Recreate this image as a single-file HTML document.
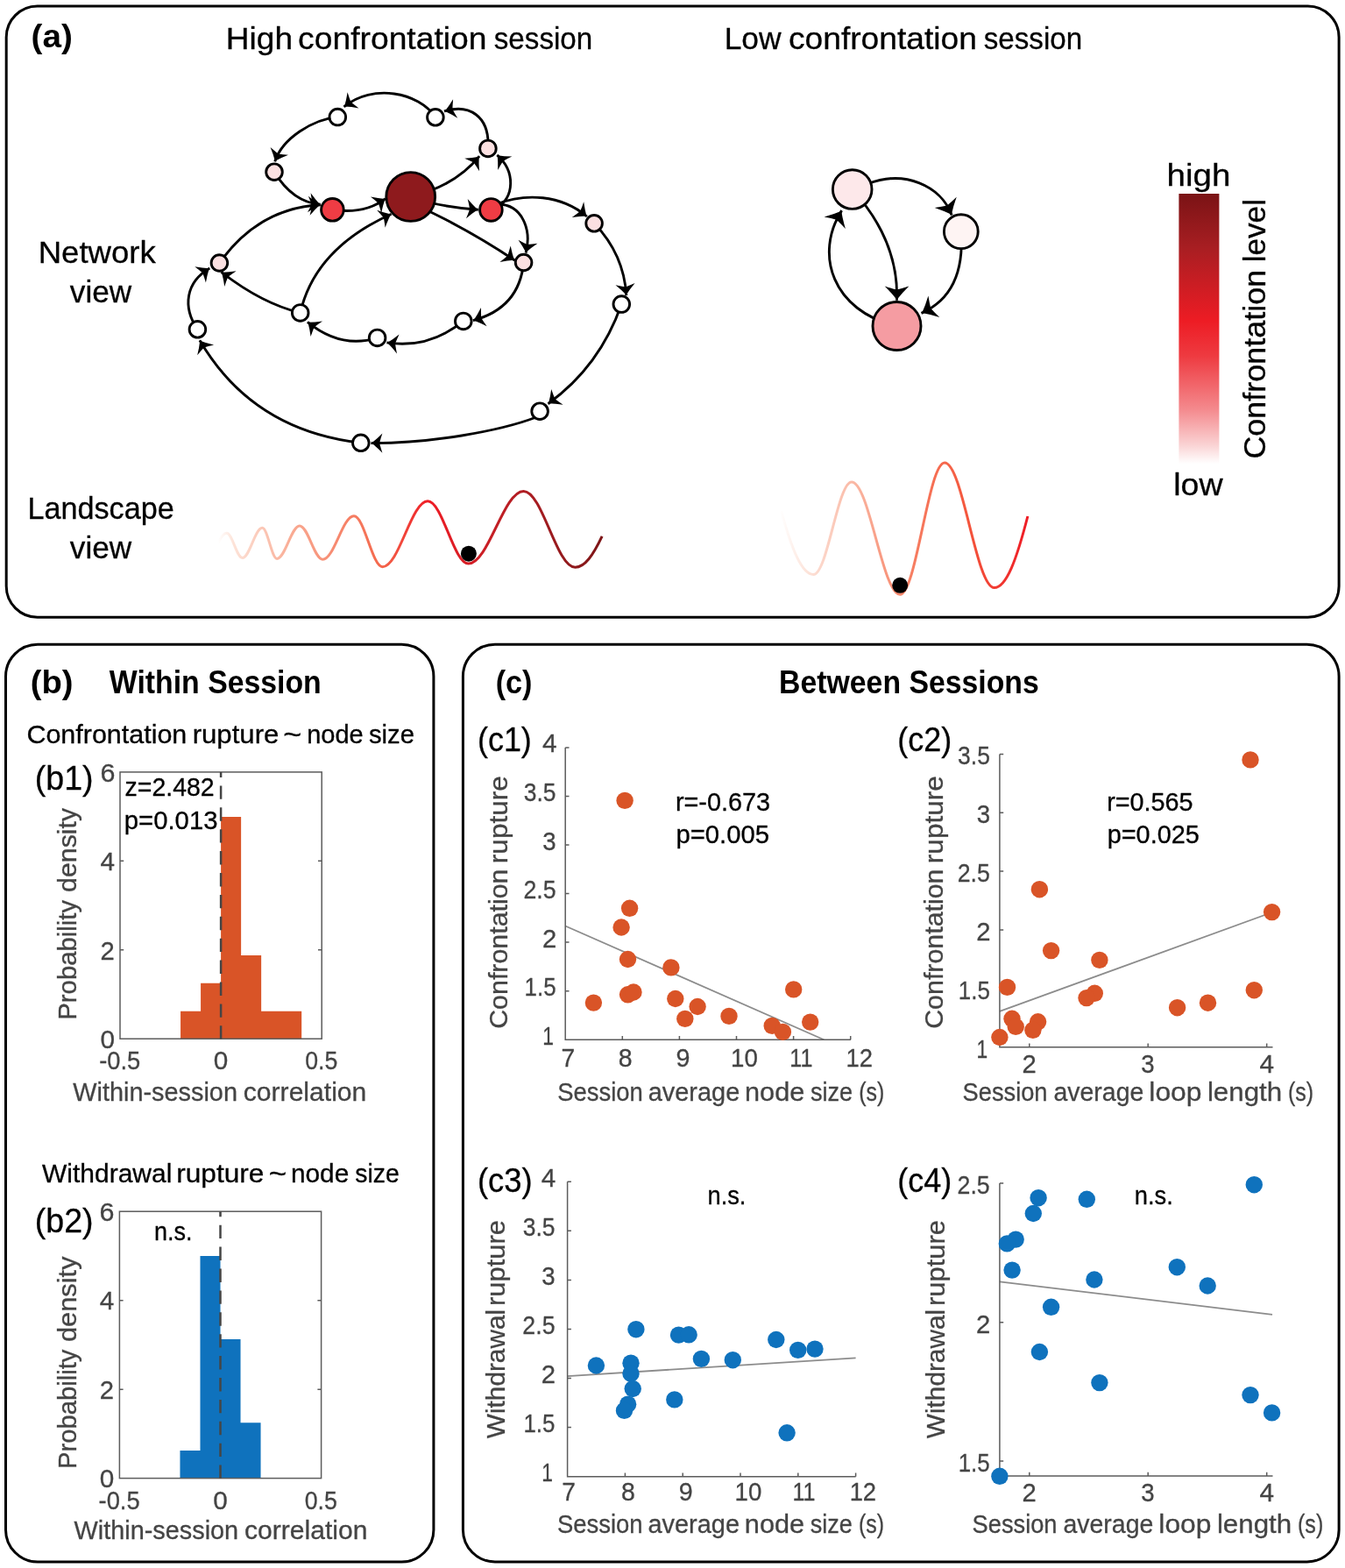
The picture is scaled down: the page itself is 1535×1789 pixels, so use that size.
<!DOCTYPE html>
<html lang="en">
<head>
<meta charset="utf-8">
<title>Figure</title>
<style>html,body{margin:0;padding:0;background:#fff}svg{display:block}text{font-family:"Liberation Sans",sans-serif}</style>
</head>
<body>
<svg width="1535" height="1789" viewBox="0 0 1535 1789">
<rect x="0" y="0" width="1535" height="1789" fill="#fff"/>
<rect x="7.2" y="7" width="1520.9" height="697.3" rx="35.5" ry="35.5" fill="none" stroke="#000" stroke-width="3"/>
<rect x="6.5" y="735.2" width="488.4" height="1046.8" rx="36.5" ry="36.5" fill="none" stroke="#000" stroke-width="3"/>
<rect x="528.4" y="735.2" width="999.7" height="1046.7" rx="36.5" ry="36.5" fill="none" stroke="#000" stroke-width="3"/>
<text transform="translate(35.57 53.80) scale(1.0740 1)" font-size="36" font-weight="700" fill="#000">(a)</text>
<text transform="translate(257.84 55.80) scale(1.0471 1)" font-size="35.4" stroke="#000" stroke-width="0.3" fill="#000">High </text>
<text transform="translate(340.12 55.80) scale(1.0528 1)" font-size="35.4" stroke="#000" stroke-width="0.3" fill="#000">confrontation </text>
<text transform="translate(563.79 55.80) scale(0.9373 1)" font-size="35.4" stroke="#000" stroke-width="0.3" fill="#000">session</text>
<text transform="translate(826.68 55.80) scale(0.9996 1)" font-size="35.4" stroke="#000" stroke-width="0.3" fill="#000">Low </text>
<text transform="translate(899.92 55.80) scale(1.0513 1)" font-size="35.4" stroke="#000" stroke-width="0.3" fill="#000">confrontation </text>
<text transform="translate(1122.79 55.80) scale(0.9365 1)" font-size="35.4" stroke="#000" stroke-width="0.3" fill="#000">session</text>
<text transform="translate(43.69 299.80) scale(1.0322 1)" font-size="35.4" stroke="#000" stroke-width="0.3" fill="#000">Network</text>
<text transform="translate(79.81 344.50) scale(0.9944 1)" font-size="35.4" stroke="#000" stroke-width="0.3" fill="#000">view</text>
<text transform="translate(31.38 592.00) scale(0.9664 1)" font-size="35.4" stroke="#000" stroke-width="0.3" fill="#000">Landscape</text>
<text transform="translate(79.81 637.30) scale(0.9944 1)" font-size="35.4" stroke="#000" stroke-width="0.3" fill="#000">view</text>
<text transform="translate(1331.60 212.10) scale(1.0882 1)" font-size="35.4" stroke="#000" stroke-width="0.3" fill="#000">high</text>
<text transform="translate(1339.16 564.50) scale(1.0610 1)" font-size="35.4" stroke="#000" stroke-width="0.3" fill="#000">low</text>
<text transform="translate(1444.40 523.60) rotate(-90) scale(1.0163 1)" font-size="35.4" stroke="#000" stroke-width="0.3" fill="#000">Confrontation </text>
<text transform="translate(1444.40 299.27) rotate(-90) scale(0.9918 1)" font-size="35.4" stroke="#000" stroke-width="0.3" fill="#000">level</text>
<defs><linearGradient id="cb" x1="0" y1="0" x2="0" y2="1"><stop offset="0" stop-color="#7a1315"/><stop offset="0.2" stop-color="#a81e22"/><stop offset="0.47" stop-color="#ed1c24"/><stop offset="0.6" stop-color="#ee3a40"/><stop offset="0.8" stop-color="#f48a8e"/><stop offset="0.93" stop-color="#fad2d3"/><stop offset="1" stop-color="#ffffff"/></linearGradient><linearGradient id="l1" gradientUnits="userSpaceOnUse" x1="249" y1="0" x2="688" y2="0"><stop offset="0" stop-color="#ffffff"/><stop offset="0.04" stop-color="#fde3d8"/><stop offset="0.2" stop-color="#f9a890"/><stop offset="0.42" stop-color="#f4694d"/><stop offset="0.55" stop-color="#ee1c25"/><stop offset="0.7" stop-color="#c91f26"/><stop offset="0.85" stop-color="#a01c20"/><stop offset="1" stop-color="#7d1517"/></linearGradient><linearGradient id="l2" gradientUnits="userSpaceOnUse" x1="890" y1="0" x2="1174" y2="0"><stop offset="0" stop-color="#ffffff"/><stop offset="0.1" stop-color="#fde6dd"/><stop offset="0.3" stop-color="#fab7a3"/><stop offset="0.5" stop-color="#f78468"/><stop offset="0.75" stop-color="#f4573d"/><stop offset="1" stop-color="#ee1c25"/></linearGradient></defs>
<rect x="1345.4" y="221" width="46" height="308" fill="url(#cb)"/>
<path d="M249.0 619.4 C252.2 612.7 255.1 608.3 258.6 608.3 C265.2 608.3 270.0 636.5 276.6 636.5 C284.9 636.5 291.0 602.3 299.3 602.3 C305.4 602.3 310.0 637.4 316.1 637.4 C325.5 637.4 332.5 599.9 341.9 599.9 C351.5 599.9 358.7 638.3 368.3 638.3 C381.3 638.3 390.9 588.8 403.9 588.8 C415.8 588.8 424.7 646.7 436.6 646.7 C455.4 646.7 469.3 571.8 488.1 571.8 C505.0 571.8 517.7 643.1 534.6 643.1 C557.5 643.1 574.6 560.4 597.5 560.4 C619.0 560.4 635.0 647.3 656.5 647.3 C667.6 647.3 677.0 633.1 687.1 611.9" fill="none" stroke="url(#l1)" stroke-width="3.0"/>
<circle cx="534.9" cy="631.7" r="9" fill="#000"/>
<path d="M891.5 583.4 C903.7 626.7 915.0 655.5 928.4 655.5 C944.2 655.5 956.1 550.0 971.9 550.0 C992.0 550.0 1007.1 678.2 1027.2 678.2 C1045.7 678.2 1059.5 528.1 1078.0 528.1 C1098.7 528.1 1114.0 670.5 1134.7 670.5 C1148.6 670.5 1160.3 637.9 1172.9 589.0" fill="none" stroke="url(#l2)" stroke-width="3.0"/>
<circle cx="1027.2" cy="667.8" r="9" fill="#000"/>
<path d="M496.9 133.8 C478.0 105.0 425.0 95.0 392.5 121.9" fill="none" stroke="#000" stroke-width="2.9"/>
<path d="M393.0 121.6 Q400.8 121.8 409.5 123.4 Q404.0 119.4 400.4 116.3 Q398.6 111.8 396.6 105.3 Q395.3 114.1 393.0 121.6Z" fill="#000"/>
<path d="M557.0 169.0 C559.0 132.0 535.0 118.0 507.0 127.0" fill="none" stroke="#000" stroke-width="2.9"/>
<path d="M507.6 126.9 Q514.7 130.1 522.2 134.8 Q518.6 129.0 516.4 124.8 Q516.5 120.0 517.1 113.2 Q512.5 120.8 507.6 126.9Z" fill="#000"/>
<path d="M385.3 133.6 C357.0 136.0 322.0 158.0 313.7 184.4" fill="none" stroke="#000" stroke-width="2.9"/>
<path d="M313.9 183.8 Q320.8 180.0 329.0 176.8 Q322.3 176.3 317.5 175.5 Q313.7 172.6 308.6 168.1 Q312.0 176.3 313.9 183.8Z" fill="#000"/>
<path d="M313.0 196.2 Q334.2 230.7 365.7 233.3" fill="none" stroke="#000" stroke-width="2.9"/>
<path d="M365.1 233.2 Q359.8 227.5 354.6 220.3 Q355.7 227.0 356.1 231.7 Q354.2 236.2 351.1 242.2 Q358.2 236.9 365.1 233.2Z" fill="#000"/>
<path d="M250.4 300.0 Q295.1 237.3 365.7 233.7" fill="none" stroke="#000" stroke-width="2.9"/>
<path d="M365.1 233.7 Q358.5 229.5 351.9 223.7 Q354.5 229.9 356.0 234.5 Q355.3 239.2 353.6 245.8 Q359.3 239.0 365.1 233.7Z" fill="#000"/>
<path d="M379.4 239.3 Q416.3 244.7 440.0 226.6" fill="none" stroke="#000" stroke-width="2.9"/>
<path d="M439.5 226.9 Q431.7 226.3 423.0 224.5 Q428.4 228.7 431.9 231.9 Q433.5 236.5 435.2 243.0 Q436.9 234.3 439.5 226.9Z" fill="#000"/>
<path d="M342.7 356.9 Q359.5 283.5 446.6 244.2" fill="none" stroke="#000" stroke-width="2.9"/>
<path d="M446.1 244.5 Q438.4 242.8 430.1 239.7 Q434.8 244.6 437.8 248.3 Q438.8 253.0 439.6 259.8 Q442.5 251.4 446.1 244.5Z" fill="#000"/>
<path d="M468.7 224.5 Q520.0 212.0 547.1 178.2" fill="none" stroke="#000" stroke-width="2.9"/>
<path d="M546.7 178.7 Q539.0 180.2 530.2 180.7 Q536.5 183.3 540.7 185.5 Q543.5 189.5 547.0 195.3 Q546.2 186.5 546.7 178.7Z" fill="#000"/>
<path d="M468.7 224.5 Q500.0 236.0 545.8 239.2" fill="none" stroke="#000" stroke-width="2.9"/>
<path d="M545.2 239.2 Q539.4 233.9 533.7 227.1 Q535.4 233.7 536.1 238.4 Q534.6 243.0 532.0 249.2 Q538.6 243.4 545.2 239.2Z" fill="#000"/>
<path d="M478.0 235.5 Q535.0 262.0 587.4 297.0" fill="none" stroke="#000" stroke-width="2.9"/>
<path d="M586.9 296.7 Q584.4 289.3 582.7 280.6 Q580.9 287.1 579.3 291.7 Q575.8 294.9 570.4 299.1 Q579.1 297.2 586.9 296.7Z" fill="#000"/>
<path d="M566.0 238.0 C588.0 225.0 588.0 195.0 567.3 176.8" fill="none" stroke="#000" stroke-width="2.9"/>
<path d="M567.7 177.2 Q568.5 185.0 568.2 193.9 Q571.4 187.9 574.0 183.9 Q578.1 181.5 584.3 178.6 Q575.4 178.5 567.7 177.2Z" fill="#000"/>
<path d="M566.0 233.0 C600.0 220.0 640.0 222.0 669.9 247.0" fill="none" stroke="#000" stroke-width="2.9"/>
<path d="M669.4 246.6 Q667.4 239.1 666.2 230.3 Q664.1 236.7 662.2 241.1 Q658.4 244.2 652.8 248.0 Q661.6 246.7 669.4 246.6Z" fill="#000"/>
<path d="M568.0 233.0 C596.0 233.0 607.0 262.0 600.1 288.6" fill="none" stroke="#000" stroke-width="2.9"/>
<path d="M600.2 288.0 Q606.0 282.8 613.4 277.8 Q606.6 278.8 601.8 279.1 Q597.5 277.1 591.5 273.8 Q596.6 281.1 600.2 288.0Z" fill="#000"/>
<path d="M678.1 254.8 Q712.0 290.0 714.8 337.1" fill="none" stroke="#000" stroke-width="2.9"/>
<path d="M714.7 336.5 Q718.9 329.9 724.6 323.1 Q718.4 325.9 713.9 327.4 Q709.2 326.7 702.5 325.2 Q709.4 330.8 714.7 336.5Z" fill="#000"/>
<path d="M597.6 299.5 C594.0 337.0 572.0 357.0 539.9 365.6" fill="none" stroke="#000" stroke-width="2.9"/>
<path d="M540.5 365.4 Q547.8 368.1 555.6 372.3 Q551.7 366.8 549.2 362.7 Q548.9 357.9 549.0 351.1 Q545.0 359.0 540.5 365.4Z" fill="#000"/>
<path d="M528.8 366.4 Q488.9 398.4 441.4 390.9" fill="none" stroke="#000" stroke-width="2.9"/>
<path d="M442.0 391.0 Q447.6 396.4 453.0 403.4 Q451.6 396.8 451.0 392.0 Q452.7 387.5 455.6 381.4 Q448.7 387.0 442.0 391.0Z" fill="#000"/>
<path d="M430.6 385.4 Q389.2 398.6 350.9 367.4" fill="none" stroke="#000" stroke-width="2.9"/>
<path d="M351.4 367.8 Q353.4 375.3 354.6 384.1 Q356.7 377.7 358.6 373.2 Q362.4 370.2 368.0 366.4 Q359.2 367.7 351.4 367.8Z" fill="#000"/>
<path d="M342.7 356.9 Q298.5 346.0 252.5 310.3" fill="none" stroke="#000" stroke-width="2.9"/>
<path d="M253.0 310.7 Q255.0 318.2 256.2 327.0 Q258.3 320.6 260.2 316.1 Q264.0 313.1 269.6 309.3 Q260.8 310.6 253.0 310.7Z" fill="#000"/>
<path d="M225.4 375.8 C208.0 350.0 212.0 322.0 239.3 306.0" fill="none" stroke="#000" stroke-width="2.9"/>
<path d="M238.8 306.3 Q231.0 305.9 222.3 304.2 Q227.7 308.3 231.3 311.5 Q233.0 316.0 234.9 322.5 Q236.4 313.8 238.8 306.3Z" fill="#000"/>
<path d="M411.8 505.3 Q288.0 491.0 227.9 388.3" fill="none" stroke="#000" stroke-width="2.9"/>
<path d="M228.2 388.8 Q227.4 396.6 225.2 405.2 Q229.6 400.0 232.9 396.6 Q237.5 395.2 244.1 393.6 Q235.5 391.6 228.2 388.8Z" fill="#000"/>
<path d="M612.0 476.0 C570.0 492.0 490.0 506.0 423.4 505.6" fill="none" stroke="#000" stroke-width="2.9"/>
<path d="M424.0 505.6 Q430.2 510.3 436.4 516.7 Q434.3 510.2 433.1 505.6 Q434.2 500.9 436.4 494.5 Q430.2 500.8 424.0 505.6Z" fill="#000"/>
<path d="M709.3 347.1 Q684.6 418.1 625.5 460.7" fill="none" stroke="#000" stroke-width="2.9"/>
<path d="M626.0 460.3 Q633.8 460.4 642.6 461.8 Q637.0 457.9 633.3 454.9 Q631.4 450.5 629.2 444.0 Q628.1 452.8 626.0 460.3Z" fill="#000"/>
<circle cx="385.3" cy="133.6" r="9.3" fill="#fff" stroke="#000" stroke-width="2.9"/>
<circle cx="496.9" cy="133.8" r="9.3" fill="#fff" stroke="#000" stroke-width="2.9"/>
<circle cx="709.3" cy="347.1" r="9.3" fill="#fff" stroke="#000" stroke-width="2.9"/>
<circle cx="342.7" cy="356.9" r="9.3" fill="#fff" stroke="#000" stroke-width="2.9"/>
<circle cx="225.4" cy="375.8" r="9.3" fill="#fff" stroke="#000" stroke-width="2.9"/>
<circle cx="430.6" cy="385.4" r="9.3" fill="#fff" stroke="#000" stroke-width="2.9"/>
<circle cx="528.8" cy="366.4" r="9.3" fill="#fff" stroke="#000" stroke-width="2.9"/>
<circle cx="616.1" cy="469.2" r="9.3" fill="#fff" stroke="#000" stroke-width="2.9"/>
<circle cx="411.8" cy="505.3" r="9.3" fill="#fff" stroke="#000" stroke-width="2.9"/>
<circle cx="556.9" cy="169.4" r="9.3" fill="#fbe0e1" stroke="#000" stroke-width="2.9"/>
<circle cx="313.0" cy="196.2" r="9.3" fill="#fbe0e1" stroke="#000" stroke-width="2.9"/>
<circle cx="678.1" cy="254.8" r="9.3" fill="#fbe0e1" stroke="#000" stroke-width="2.9"/>
<circle cx="250.4" cy="300.0" r="9.3" fill="#fbe0e1" stroke="#000" stroke-width="2.9"/>
<circle cx="597.6" cy="299.5" r="9.3" fill="#fbe0e1" stroke="#000" stroke-width="2.9"/>
<circle cx="379.4" cy="239.3" r="12.8" fill="#ef3c44" stroke="#000" stroke-width="2.9"/>
<circle cx="560.4" cy="239.4" r="12.8" fill="#ef3c44" stroke="#000" stroke-width="2.9"/>
<circle cx="468.7" cy="224.5" r="27.9" fill="#8e1a1d" stroke="#000" stroke-width="2.9"/>
<path d="M990.0 210.0 C1032.0 193.0 1074.0 212.0 1086.2 245.5" fill="none" stroke="#000" stroke-width="2.9"/>
<path d="M1085.9 244.8 Q1087.9 235.3 1091.7 224.8 Q1085.6 230.7 1080.9 234.6 Q1075.1 235.8 1066.7 236.9 Q1077.1 240.4 1085.9 244.8Z" fill="#000"/>
<path d="M972.7 216.1 Q1026.0 275.0 1023.5 342.7" fill="none" stroke="#000" stroke-width="2.9"/>
<path d="M1023.5 342.0 Q1029.5 334.2 1037.4 326.5 Q1029.4 329.1 1023.5 330.6 Q1017.7 329.1 1009.7 326.4 Q1017.5 334.2 1023.5 342.0Z" fill="#000"/>
<path d="M1096.8 264.2 Q1102.0 335.0 1051.5 357.4" fill="none" stroke="#000" stroke-width="2.9"/>
<path d="M1052.2 357.1 Q1061.8 358.7 1072.3 362.1 Q1066.2 356.3 1062.2 351.8 Q1060.8 345.9 1059.4 337.6 Q1056.3 348.2 1052.2 357.1Z" fill="#000"/>
<path d="M1023.5 372.0 C950.0 355.0 929.0 290.0 960.6 240.1" fill="none" stroke="#000" stroke-width="2.9"/>
<path d="M960.2 240.8 Q951.3 244.6 940.6 247.6 Q948.9 249.1 954.7 250.7 Q959.1 254.8 964.9 261.0 Q961.7 250.4 960.2 240.8Z" fill="#000"/>
<circle cx="972.7" cy="216.1" r="22.3" fill="#fde8ea" stroke="#000" stroke-width="2.9"/>
<circle cx="1096.8" cy="264.2" r="19.4" fill="#fef4f3" stroke="#000" stroke-width="2.9"/>
<circle cx="1023.5" cy="372.0" r="27.5" fill="#f59ca2" stroke="#000" stroke-width="2.9"/>
<text transform="translate(34.79 791.00) scale(1.0470 1)" font-size="36.5" font-weight="700" fill="#000">(b)</text>
<text transform="translate(124.80 791.00) scale(0.9264 1)" font-size="36.5" font-weight="700" fill="#000">Within Session</text>
<text transform="translate(30.38 847.70) scale(1.0331 1)" font-size="29.5" stroke="#000" stroke-width="0.3" fill="#000">Confrontation </text>
<text transform="translate(219.67 847.70) scale(1.0568 1)" font-size="29.5" stroke="#000" stroke-width="0.3" fill="#000">rupture </text>
<text transform="translate(323.28 847.70) scale(1.2190 1)" font-size="29.5" stroke="#000" stroke-width="0.3" fill="#000">~ </text>
<text transform="translate(350.14 847.70) scale(0.9837 1)" font-size="29.5" stroke="#000" stroke-width="0.3" fill="#000">node </text>
<text transform="translate(420.99 847.70) scale(0.9926 1)" font-size="29.5" stroke="#000" stroke-width="0.3" fill="#000">size</text>
<text transform="translate(48.05 1349.00) scale(1.0166 1)" font-size="29.5" stroke="#000" stroke-width="0.3" fill="#000">Withdrawal </text>
<text transform="translate(201.25 1349.00) scale(1.0712 1)" font-size="29.5" stroke="#000" stroke-width="0.3" fill="#000">rupture </text>
<text transform="translate(306.73 1349.00) scale(1.1847 1)" font-size="29.5" stroke="#000" stroke-width="0.3" fill="#000">~ </text>
<text transform="translate(331.88 1349.00) scale(1.0125 1)" font-size="29.5" stroke="#000" stroke-width="0.3" fill="#000">node </text>
<text transform="translate(405.22 1349.00) scale(0.9629 1)" font-size="29.5" stroke="#000" stroke-width="0.3" fill="#000">size</text>
<text transform="translate(39.75 900.60) scale(0.9637 1)" font-size="39" stroke="#000" stroke-width="0.3" fill="#000">(b1)</text>
<text transform="translate(39.75 1405.70) scale(0.9637 1)" font-size="39" stroke="#000" stroke-width="0.3" fill="#000">(b2)</text>
<path d="M206.06 1185.2V1153.70H229.08V1121.80H252.10V932.12H275.12V1089.95H298.14V1153.70H344.18V1185.2Z" fill="#d95427"/>
<rect x="137.0" y="880.9" width="230.20" height="304.30" fill="none" stroke="#5c5c5c" stroke-width="1.5"/>
<path d="M137.0 1083.77h4.2M367.2 1083.77h-4.2" stroke="#5c5c5c" stroke-width="1.5" fill="none"/>
<path d="M137.0 982.33h4.2M367.2 982.33h-4.2" stroke="#5c5c5c" stroke-width="1.5" fill="none"/>
<path d="M252.10 1185.2v-4.2M252.10 880.9v4.2" stroke="#5c5c5c" stroke-width="1.5" fill="none"/>
<path d="M252.10 880.9V1185.2" stroke="#454545" stroke-width="2.5" stroke-dasharray="15.4 9.5" stroke-dashoffset="9.4" fill="none"/>
<text transform="translate(114.51 1196.20) scale(1.0184 1)" font-size="29.2" stroke="#444444" stroke-width="0.3" fill="#444444">0</text>
<text transform="translate(114.54 1094.77) scale(1.0011 1)" font-size="29.2" stroke="#444444" stroke-width="0.3" fill="#444444">2</text>
<text transform="translate(114.53 993.33) scale(1.0172 1)" font-size="29.2" stroke="#444444" stroke-width="0.3" fill="#444444">4</text>
<text transform="translate(114.38 891.90) scale(1.0441 1)" font-size="29.2" stroke="#444444" stroke-width="0.3" fill="#444444">6</text>
<text transform="translate(113.17 1220.40) scale(0.9349 1)" font-size="29.2" stroke="#444444" stroke-width="0.3" fill="#444444">-0.5</text>
<text transform="translate(243.81 1220.40) scale(1.0184 1)" font-size="29.2" stroke="#444444" stroke-width="0.3" fill="#444444">0</text>
<text transform="translate(348.23 1220.40) scale(0.9150 1)" font-size="29.2" stroke="#444444" stroke-width="0.3" fill="#444444">0.5</text>
<path d="M205.46 1686.6V1655.09H228.48V1432.93H251.50V1528.06H274.52V1623.18H297.54V1686.6Z" fill="#0f72bd"/>
<rect x="136.4" y="1382.2" width="230.20" height="304.40" fill="none" stroke="#5c5c5c" stroke-width="1.5"/>
<path d="M136.4 1585.13h4.2M366.6 1585.13h-4.2" stroke="#5c5c5c" stroke-width="1.5" fill="none"/>
<path d="M136.4 1483.67h4.2M366.6 1483.67h-4.2" stroke="#5c5c5c" stroke-width="1.5" fill="none"/>
<path d="M251.50 1686.6v-4.2M251.50 1382.2v4.2" stroke="#5c5c5c" stroke-width="1.5" fill="none"/>
<path d="M251.50 1382.2V1686.6" stroke="#454545" stroke-width="2.5" stroke-dasharray="15.4 9.5" stroke-dashoffset="9.4" fill="none"/>
<text transform="translate(113.71 1697.30) scale(1.0184 1)" font-size="29.2" stroke="#444444" stroke-width="0.3" fill="#444444">0</text>
<text transform="translate(113.74 1595.83) scale(1.0011 1)" font-size="29.2" stroke="#444444" stroke-width="0.3" fill="#444444">2</text>
<text transform="translate(113.73 1494.37) scale(1.0172 1)" font-size="29.2" stroke="#444444" stroke-width="0.3" fill="#444444">4</text>
<text transform="translate(113.58 1392.90) scale(1.0441 1)" font-size="29.2" stroke="#444444" stroke-width="0.3" fill="#444444">6</text>
<text transform="translate(112.57 1721.60) scale(0.9349 1)" font-size="29.2" stroke="#444444" stroke-width="0.3" fill="#444444">-0.5</text>
<text transform="translate(243.21 1721.60) scale(1.0184 1)" font-size="29.2" stroke="#444444" stroke-width="0.3" fill="#444444">0</text>
<text transform="translate(347.63 1721.60) scale(0.9150 1)" font-size="29.2" stroke="#444444" stroke-width="0.3" fill="#444444">0.5</text>
<text transform="translate(86.90 1163.72) rotate(-90) scale(1.0046 1)" font-size="29.2" stroke="#444444" stroke-width="0.3" fill="#444444">Probability </text>
<text transform="translate(86.90 1017.89) rotate(-90) scale(1.0386 1)" font-size="29.2" stroke="#444444" stroke-width="0.3" fill="#444444">density</text>
<text transform="translate(86.90 1676.11) rotate(-90) scale(1.0016 1)" font-size="29.2" stroke="#444444" stroke-width="0.3" fill="#444444">Probability </text>
<text transform="translate(86.90 1531.01) rotate(-90) scale(1.0551 1)" font-size="29.2" stroke="#444444" stroke-width="0.3" fill="#444444">density</text>
<text transform="translate(83.36 1256.20) scale(0.9887 1)" font-size="29.2" stroke="#444444" stroke-width="0.3" fill="#444444">Within-session </text>
<text transform="translate(277.82 1256.20) scale(1.0306 1)" font-size="29.2" stroke="#444444" stroke-width="0.3" fill="#444444">correlation</text>
<text transform="translate(84.56 1755.70) scale(0.9887 1)" font-size="29.2" stroke="#444444" stroke-width="0.3" fill="#444444">Within-session </text>
<text transform="translate(279.02 1755.70) scale(1.0306 1)" font-size="29.2" stroke="#444444" stroke-width="0.3" fill="#444444">correlation</text>
<text transform="translate(142.56 908.30) scale(0.9964 1)" font-size="28.6" stroke="#000" stroke-width="0.3" fill="#000">z=2.482</text>
<text transform="translate(141.80 946.00) scale(1.0247 1)" font-size="28.6" stroke="#000" stroke-width="0.3" fill="#000">p=0.013</text>
<text transform="translate(176.08 1414.60) scale(0.9444 1)" font-size="28.6" stroke="#000" stroke-width="0.3" fill="#000">n.s.</text>
<text transform="translate(565.69 791.00) scale(0.9348 1)" font-size="36.5" font-weight="700" fill="#000">(c)</text>
<text transform="translate(889.12 791.00) scale(0.9259 1)" font-size="36.5" font-weight="700" fill="#000">Between Sessions</text>
<text transform="translate(544.95 856.90) scale(0.9215 1)" font-size="39" stroke="#000" stroke-width="0.3" fill="#000">(c1)</text>
<text transform="translate(1024.25 856.90) scale(0.9231 1)" font-size="39" stroke="#000" stroke-width="0.3" fill="#000">(c2)</text>
<text transform="translate(544.93 1359.70) scale(0.9327 1)" font-size="39" stroke="#000" stroke-width="0.3" fill="#000">(c3)</text>
<text transform="translate(1024.25 1359.70) scale(0.9231 1)" font-size="39" stroke="#000" stroke-width="0.3" fill="#000">(c4)</text>
<path d="M645.2 1056.5L940.3 1186.2" stroke="#8c8c8c" stroke-width="1.8" fill="none"/>
<path d="M645.2 852.9V1186.2H970.9M645.2 1186.2v-4.3M710.3 1186.2v-4.3M775.4 1186.2v-4.3M840.5 1186.2v-4.3M905.6 1186.2v-4.3M970.7 1186.2v-4.3M645.2 1186.2h4.3M645.2 1130.7h4.3M645.2 1075.1h4.3M645.2 1019.6h4.3M645.2 964.0h4.3M645.2 908.5h4.3M645.2 852.9h4.3" stroke="#5c5c5c" stroke-width="1.5" fill="none"/>
<circle cx="713.1" cy="913.4" r="9.7" fill="#d95427"/>
<circle cx="718.6" cy="1036.3" r="9.7" fill="#d95427"/>
<circle cx="709.1" cy="1058.0" r="9.7" fill="#d95427"/>
<circle cx="716.5" cy="1094.5" r="9.7" fill="#d95427"/>
<circle cx="765.9" cy="1103.9" r="9.7" fill="#d95427"/>
<circle cx="716.5" cy="1134.8" r="9.7" fill="#d95427"/>
<circle cx="723.0" cy="1132.0" r="9.7" fill="#d95427"/>
<circle cx="677.4" cy="1144.1" r="9.7" fill="#d95427"/>
<circle cx="770.8" cy="1139.5" r="9.7" fill="#d95427"/>
<circle cx="796.1" cy="1148.5" r="9.7" fill="#d95427"/>
<circle cx="781.8" cy="1162.4" r="9.7" fill="#d95427"/>
<circle cx="832.0" cy="1159.4" r="9.7" fill="#d95427"/>
<circle cx="905.7" cy="1128.9" r="9.7" fill="#d95427"/>
<circle cx="881.2" cy="1170.4" r="9.7" fill="#d95427"/>
<circle cx="893.4" cy="1177.4" r="9.7" fill="#d95427"/>
<circle cx="924.7" cy="1166.1" r="9.7" fill="#d95427"/>
<text transform="translate(640.39 1216.90) scale(0.9634 1)" font-size="29.2" stroke="#444444" stroke-width="0.3" fill="#444444">7</text>
<text transform="translate(705.79 1216.90) scale(0.9764 1)" font-size="29.2" stroke="#444444" stroke-width="0.3" fill="#444444">8</text>
<text transform="translate(771.43 1216.90) scale(0.9848 1)" font-size="29.2" stroke="#444444" stroke-width="0.3" fill="#444444">9</text>
<text transform="translate(834.12 1216.90) scale(0.9476 1)" font-size="29.2" stroke="#444444" stroke-width="0.3" fill="#444444">10</text>
<text transform="translate(901.31 1216.90) scale(0.8608 1)" font-size="29.2" stroke="#444444" stroke-width="0.3" fill="#444444">11</text>
<text transform="translate(965.44 1216.90) scale(0.9387 1)" font-size="29.2" stroke="#444444" stroke-width="0.3" fill="#444444">12</text>
<text transform="translate(619.27 1191.70) scale(0.7800 1)" font-size="29.2" stroke="#444444" stroke-width="0.3" fill="#444444">1</text>
<text transform="translate(598.56 1136.15) scale(0.8864 1)" font-size="29.2" stroke="#444444" stroke-width="0.3" fill="#444444">1.5</text>
<text transform="translate(618.94 1080.60) scale(1.0011 1)" font-size="29.2" stroke="#444444" stroke-width="0.3" fill="#444444">2</text>
<text transform="translate(597.47 1025.05) scale(0.9141 1)" font-size="29.2" stroke="#444444" stroke-width="0.3" fill="#444444">2.5</text>
<text transform="translate(619.37 969.50) scale(0.9445 1)" font-size="29.2" stroke="#444444" stroke-width="0.3" fill="#444444">3</text>
<text transform="translate(597.81 913.95) scale(0.9054 1)" font-size="29.2" stroke="#444444" stroke-width="0.3" fill="#444444">3.5</text>
<text transform="translate(618.93 858.40) scale(1.0172 1)" font-size="29.2" stroke="#444444" stroke-width="0.3" fill="#444444">4</text>
<path d="M1140.9 1153.9L1451.6 1041.0" stroke="#8c8c8c" stroke-width="1.8" fill="none"/>
<path d="M1140.9 860.4V1194.7H1452.5M1174.8 1194.7v-4.3M1310.2 1194.7v-4.3M1445.7 1194.7v-4.3M1140.9 1194.7h4.3M1140.9 1127.8h4.3M1140.9 1061.0h4.3M1140.9 994.1h4.3M1140.9 927.3h4.3M1140.9 860.4h4.3" stroke="#5c5c5c" stroke-width="1.5" fill="none"/>
<circle cx="1427.0" cy="866.9" r="9.7" fill="#d95427"/>
<circle cx="1186.4" cy="1014.7" r="9.7" fill="#d95427"/>
<circle cx="1451.6" cy="1040.6" r="9.7" fill="#d95427"/>
<circle cx="1199.6" cy="1084.6" r="9.7" fill="#d95427"/>
<circle cx="1254.9" cy="1095.4" r="9.7" fill="#d95427"/>
<circle cx="1149.5" cy="1126.4" r="9.7" fill="#d95427"/>
<circle cx="1249.3" cy="1133.3" r="9.7" fill="#d95427"/>
<circle cx="1240.0" cy="1138.6" r="9.7" fill="#d95427"/>
<circle cx="1431.3" cy="1129.7" r="9.7" fill="#d95427"/>
<circle cx="1378.5" cy="1144.2" r="9.7" fill="#d95427"/>
<circle cx="1343.6" cy="1149.7" r="9.7" fill="#d95427"/>
<circle cx="1155.0" cy="1162.3" r="9.7" fill="#d95427"/>
<circle cx="1159.2" cy="1171.4" r="9.7" fill="#d95427"/>
<circle cx="1184.6" cy="1165.8" r="9.7" fill="#d95427"/>
<circle cx="1178.9" cy="1175.3" r="9.7" fill="#d95427"/>
<circle cx="1140.9" cy="1183.5" r="9.7" fill="#d95427"/>
<text transform="translate(1166.54 1223.50) scale(1.0011 1)" font-size="29.2" stroke="#444444" stroke-width="0.3" fill="#444444">2</text>
<text transform="translate(1302.37 1223.50) scale(0.9445 1)" font-size="29.2" stroke="#444444" stroke-width="0.3" fill="#444444">3</text>
<text transform="translate(1437.43 1223.50) scale(1.0172 1)" font-size="29.2" stroke="#444444" stroke-width="0.3" fill="#444444">4</text>
<text transform="translate(1114.57 1206.70) scale(0.7800 1)" font-size="29.2" stroke="#444444" stroke-width="0.3" fill="#444444">1</text>
<text transform="translate(1093.86 1139.84) scale(0.8864 1)" font-size="29.2" stroke="#444444" stroke-width="0.3" fill="#444444">1.5</text>
<text transform="translate(1114.24 1072.98) scale(1.0011 1)" font-size="29.2" stroke="#444444" stroke-width="0.3" fill="#444444">2</text>
<text transform="translate(1092.77 1006.12) scale(0.9141 1)" font-size="29.2" stroke="#444444" stroke-width="0.3" fill="#444444">2.5</text>
<text transform="translate(1114.67 939.26) scale(0.9445 1)" font-size="29.2" stroke="#444444" stroke-width="0.3" fill="#444444">3</text>
<text transform="translate(1093.11 872.40) scale(0.9054 1)" font-size="29.2" stroke="#444444" stroke-width="0.3" fill="#444444">3.5</text>
<path d="M647.6 1570.1L976.6 1549.4" stroke="#8c8c8c" stroke-width="1.8" fill="none"/>
<path d="M647.6 1348.2V1684.7H976.6M647.6 1684.7v-4.3M713.4 1684.7v-4.3M779.2 1684.7v-4.3M845.0 1684.7v-4.3M910.8 1684.7v-4.3M976.6 1684.7v-4.3M647.6 1684.7h4.3M647.6 1628.6h4.3M647.6 1572.5h4.3M647.6 1516.5h4.3M647.6 1460.4h4.3M647.6 1404.3h4.3M647.6 1348.2h4.3" stroke="#5c5c5c" stroke-width="1.5" fill="none"/>
<circle cx="680.4" cy="1558.0" r="9.7" fill="#0f72bd"/>
<circle cx="725.9" cy="1516.7" r="9.7" fill="#0f72bd"/>
<circle cx="720.0" cy="1555.2" r="9.7" fill="#0f72bd"/>
<circle cx="720.0" cy="1567.2" r="9.7" fill="#0f72bd"/>
<circle cx="722.2" cy="1584.5" r="9.7" fill="#0f72bd"/>
<circle cx="716.6" cy="1602.2" r="9.7" fill="#0f72bd"/>
<circle cx="712.5" cy="1609.4" r="9.7" fill="#0f72bd"/>
<circle cx="774.5" cy="1523.1" r="9.7" fill="#0f72bd"/>
<circle cx="786.1" cy="1522.8" r="9.7" fill="#0f72bd"/>
<circle cx="769.8" cy="1596.9" r="9.7" fill="#0f72bd"/>
<circle cx="800.4" cy="1550.4" r="9.7" fill="#0f72bd"/>
<circle cx="836.3" cy="1551.7" r="9.7" fill="#0f72bd"/>
<circle cx="885.8" cy="1528.5" r="9.7" fill="#0f72bd"/>
<circle cx="910.7" cy="1540.4" r="9.7" fill="#0f72bd"/>
<circle cx="930.0" cy="1539.1" r="9.7" fill="#0f72bd"/>
<circle cx="898.1" cy="1634.8" r="9.7" fill="#0f72bd"/>
<text transform="translate(641.19 1712.00) scale(0.9634 1)" font-size="29.2" stroke="#444444" stroke-width="0.3" fill="#444444">7</text>
<text transform="translate(709.09 1712.00) scale(0.9764 1)" font-size="29.2" stroke="#444444" stroke-width="0.3" fill="#444444">8</text>
<text transform="translate(774.63 1712.00) scale(0.9848 1)" font-size="29.2" stroke="#444444" stroke-width="0.3" fill="#444444">9</text>
<text transform="translate(838.52 1712.00) scale(0.9476 1)" font-size="29.2" stroke="#444444" stroke-width="0.3" fill="#444444">10</text>
<text transform="translate(904.41 1712.00) scale(0.8608 1)" font-size="29.2" stroke="#444444" stroke-width="0.3" fill="#444444">11</text>
<text transform="translate(969.64 1712.00) scale(0.9387 1)" font-size="29.2" stroke="#444444" stroke-width="0.3" fill="#444444">12</text>
<text transform="translate(618.17 1690.10) scale(0.7800 1)" font-size="29.2" stroke="#444444" stroke-width="0.3" fill="#444444">1</text>
<text transform="translate(597.46 1634.02) scale(0.8864 1)" font-size="29.2" stroke="#444444" stroke-width="0.3" fill="#444444">1.5</text>
<text transform="translate(617.84 1577.94) scale(1.0011 1)" font-size="29.2" stroke="#444444" stroke-width="0.3" fill="#444444">2</text>
<text transform="translate(596.37 1521.86) scale(0.9141 1)" font-size="29.2" stroke="#444444" stroke-width="0.3" fill="#444444">2.5</text>
<text transform="translate(618.27 1465.78) scale(0.9445 1)" font-size="29.2" stroke="#444444" stroke-width="0.3" fill="#444444">3</text>
<text transform="translate(596.71 1409.70) scale(0.9054 1)" font-size="29.2" stroke="#444444" stroke-width="0.3" fill="#444444">3.5</text>
<text transform="translate(617.83 1353.62) scale(1.0172 1)" font-size="29.2" stroke="#444444" stroke-width="0.3" fill="#444444">4</text>
<path d="M1140.9 1462.3L1452.0 1499.9" stroke="#8c8c8c" stroke-width="1.8" fill="none"/>
<path d="M1140.9 1350.1V1684.1H1452.5M1174.8 1684.1v-4.3M1310.2 1684.1v-4.3M1445.7 1684.1v-4.3M1140.9 1350.1h4.3M1140.9 1508.7h4.3M1140.9 1667.1h4.3" stroke="#5c5c5c" stroke-width="1.5" fill="none"/>
<circle cx="1431.3" cy="1351.7" r="9.7" fill="#0f72bd"/>
<circle cx="1185.1" cy="1366.7" r="9.7" fill="#0f72bd"/>
<circle cx="1240.3" cy="1368.3" r="9.7" fill="#0f72bd"/>
<circle cx="1179.3" cy="1384.5" r="9.7" fill="#0f72bd"/>
<circle cx="1159.2" cy="1414.1" r="9.7" fill="#0f72bd"/>
<circle cx="1149.3" cy="1418.9" r="9.7" fill="#0f72bd"/>
<circle cx="1155.1" cy="1449.1" r="9.7" fill="#0f72bd"/>
<circle cx="1343.3" cy="1445.7" r="9.7" fill="#0f72bd"/>
<circle cx="1248.9" cy="1460.0" r="9.7" fill="#0f72bd"/>
<circle cx="1378.2" cy="1467.0" r="9.7" fill="#0f72bd"/>
<circle cx="1199.6" cy="1491.3" r="9.7" fill="#0f72bd"/>
<circle cx="1186.4" cy="1542.5" r="9.7" fill="#0f72bd"/>
<circle cx="1254.9" cy="1577.6" r="9.7" fill="#0f72bd"/>
<circle cx="1427.0" cy="1591.6" r="9.7" fill="#0f72bd"/>
<circle cx="1451.6" cy="1611.9" r="9.7" fill="#0f72bd"/>
<circle cx="1140.9" cy="1684.3" r="9.7" fill="#0f72bd"/>
<text transform="translate(1166.54 1712.50) scale(1.0011 1)" font-size="29.2" stroke="#444444" stroke-width="0.3" fill="#444444">2</text>
<text transform="translate(1302.37 1712.50) scale(0.9445 1)" font-size="29.2" stroke="#444444" stroke-width="0.3" fill="#444444">3</text>
<text transform="translate(1437.43 1712.50) scale(1.0172 1)" font-size="29.2" stroke="#444444" stroke-width="0.3" fill="#444444">4</text>
<text transform="translate(1092.57 1362.10) scale(0.9141 1)" font-size="29.2" stroke="#444444" stroke-width="0.3" fill="#444444">2.5</text>
<text transform="translate(1114.04 1520.70) scale(1.0011 1)" font-size="29.2" stroke="#444444" stroke-width="0.3" fill="#444444">2</text>
<text transform="translate(1093.66 1679.10) scale(0.8864 1)" font-size="29.2" stroke="#444444" stroke-width="0.3" fill="#444444">1.5</text>
<text transform="translate(578.60 1173.82) rotate(-90) scale(1.0402 1)" font-size="29.2" stroke="#444444" stroke-width="0.3" fill="#444444">Confrontation </text>
<text transform="translate(578.60 985.15) rotate(-90) scale(1.0811 1)" font-size="29.2" stroke="#444444" stroke-width="0.3" fill="#444444">rupture</text>
<text transform="translate(1076.00 1173.82) rotate(-90) scale(1.0402 1)" font-size="29.2" stroke="#444444" stroke-width="0.3" fill="#444444">Confrontation </text>
<text transform="translate(1076.00 985.15) rotate(-90) scale(1.0811 1)" font-size="29.2" stroke="#444444" stroke-width="0.3" fill="#444444">rupture</text>
<text transform="translate(575.70 1641.15) rotate(-90) scale(1.0200 1)" font-size="29.2" stroke="#444444" stroke-width="0.3" fill="#444444">Withdrawal </text>
<text transform="translate(575.70 1490.01) rotate(-90) scale(1.0599 1)" font-size="29.2" stroke="#444444" stroke-width="0.3" fill="#444444">rupture</text>
<text transform="translate(1077.60 1641.15) rotate(-90) scale(1.0200 1)" font-size="29.2" stroke="#444444" stroke-width="0.3" fill="#444444">Withdrawal </text>
<text transform="translate(1077.60 1490.01) rotate(-90) scale(1.0599 1)" font-size="29.2" stroke="#444444" stroke-width="0.3" fill="#444444">rupture</text>
<text transform="translate(636.16 1256.20) scale(0.9400 1)" font-size="29.2" stroke="#444444" stroke-width="0.3" fill="#444444">Session </text>
<text transform="translate(739.67 1256.20) scale(0.9912 1)" font-size="29.2" stroke="#444444" stroke-width="0.3" fill="#444444">average </text>
<text transform="translate(850.03 1256.20) scale(1.0505 1)" font-size="29.2" stroke="#444444" stroke-width="0.3" fill="#444444">node </text>
<text transform="translate(924.95 1256.20) scale(0.9286 1)" font-size="29.2" stroke="#444444" stroke-width="0.3" fill="#444444">size </text>
<text transform="translate(980.24 1256.20) scale(0.8541 1)" font-size="29.2" stroke="#444444" stroke-width="0.3" fill="#444444">(s)</text>
<text transform="translate(1098.57 1256.20) scale(0.9331 1)" font-size="29.2" stroke="#444444" stroke-width="0.3" fill="#444444">Session </text>
<text transform="translate(1202.49 1256.20) scale(0.9747 1)" font-size="29.2" stroke="#444444" stroke-width="0.3" fill="#444444">average </text>
<text transform="translate(1311.35 1256.20) scale(1.0894 1)" font-size="29.2" stroke="#444444" stroke-width="0.3" fill="#444444">loop </text>
<text transform="translate(1377.89 1256.20) scale(1.0726 1)" font-size="29.2" stroke="#444444" stroke-width="0.3" fill="#444444">length </text>
<text transform="translate(1470.04 1256.20) scale(0.8541 1)" font-size="29.2" stroke="#444444" stroke-width="0.3" fill="#444444">(s)</text>
<text transform="translate(635.96 1749.20) scale(0.9400 1)" font-size="29.2" stroke="#444444" stroke-width="0.3" fill="#444444">Session </text>
<text transform="translate(739.47 1749.20) scale(0.9912 1)" font-size="29.2" stroke="#444444" stroke-width="0.3" fill="#444444">average </text>
<text transform="translate(849.83 1749.20) scale(1.0505 1)" font-size="29.2" stroke="#444444" stroke-width="0.3" fill="#444444">node </text>
<text transform="translate(924.75 1749.20) scale(0.9286 1)" font-size="29.2" stroke="#444444" stroke-width="0.3" fill="#444444">size </text>
<text transform="translate(980.04 1749.20) scale(0.8541 1)" font-size="29.2" stroke="#444444" stroke-width="0.3" fill="#444444">(s)</text>
<text transform="translate(1109.57 1749.20) scale(0.9331 1)" font-size="29.2" stroke="#444444" stroke-width="0.3" fill="#444444">Session </text>
<text transform="translate(1213.49 1749.20) scale(0.9747 1)" font-size="29.2" stroke="#444444" stroke-width="0.3" fill="#444444">average </text>
<text transform="translate(1322.35 1749.20) scale(1.0894 1)" font-size="29.2" stroke="#444444" stroke-width="0.3" fill="#444444">loop </text>
<text transform="translate(1388.89 1749.20) scale(1.0726 1)" font-size="29.2" stroke="#444444" stroke-width="0.3" fill="#444444">length </text>
<text transform="translate(1481.04 1749.20) scale(0.8574 1)" font-size="29.2" stroke="#444444" stroke-width="0.3" fill="#444444">(s)</text>
<text transform="translate(770.93 924.60) scale(1.0072 1)" font-size="28.6" stroke="#000" stroke-width="0.3" fill="#000">r=-0.673</text>
<text transform="translate(771.50 961.90) scale(1.0230 1)" font-size="28.6" stroke="#000" stroke-width="0.3" fill="#000">p=0.005</text>
<text transform="translate(1263.23 924.60) scale(1.0059 1)" font-size="28.6" stroke="#000" stroke-width="0.3" fill="#000">r=0.565</text>
<text transform="translate(1263.72 961.90) scale(1.0092 1)" font-size="28.6" stroke="#000" stroke-width="0.3" fill="#000">p=0.025</text>
<text transform="translate(807.46 1374.40) scale(0.9540 1)" font-size="28.6" stroke="#000" stroke-width="0.3" fill="#000">n.s.</text>
<text transform="translate(1294.76 1374.40) scale(0.9540 1)" font-size="28.6" stroke="#000" stroke-width="0.3" fill="#000">n.s.</text>
</svg>
</body>
</html>
